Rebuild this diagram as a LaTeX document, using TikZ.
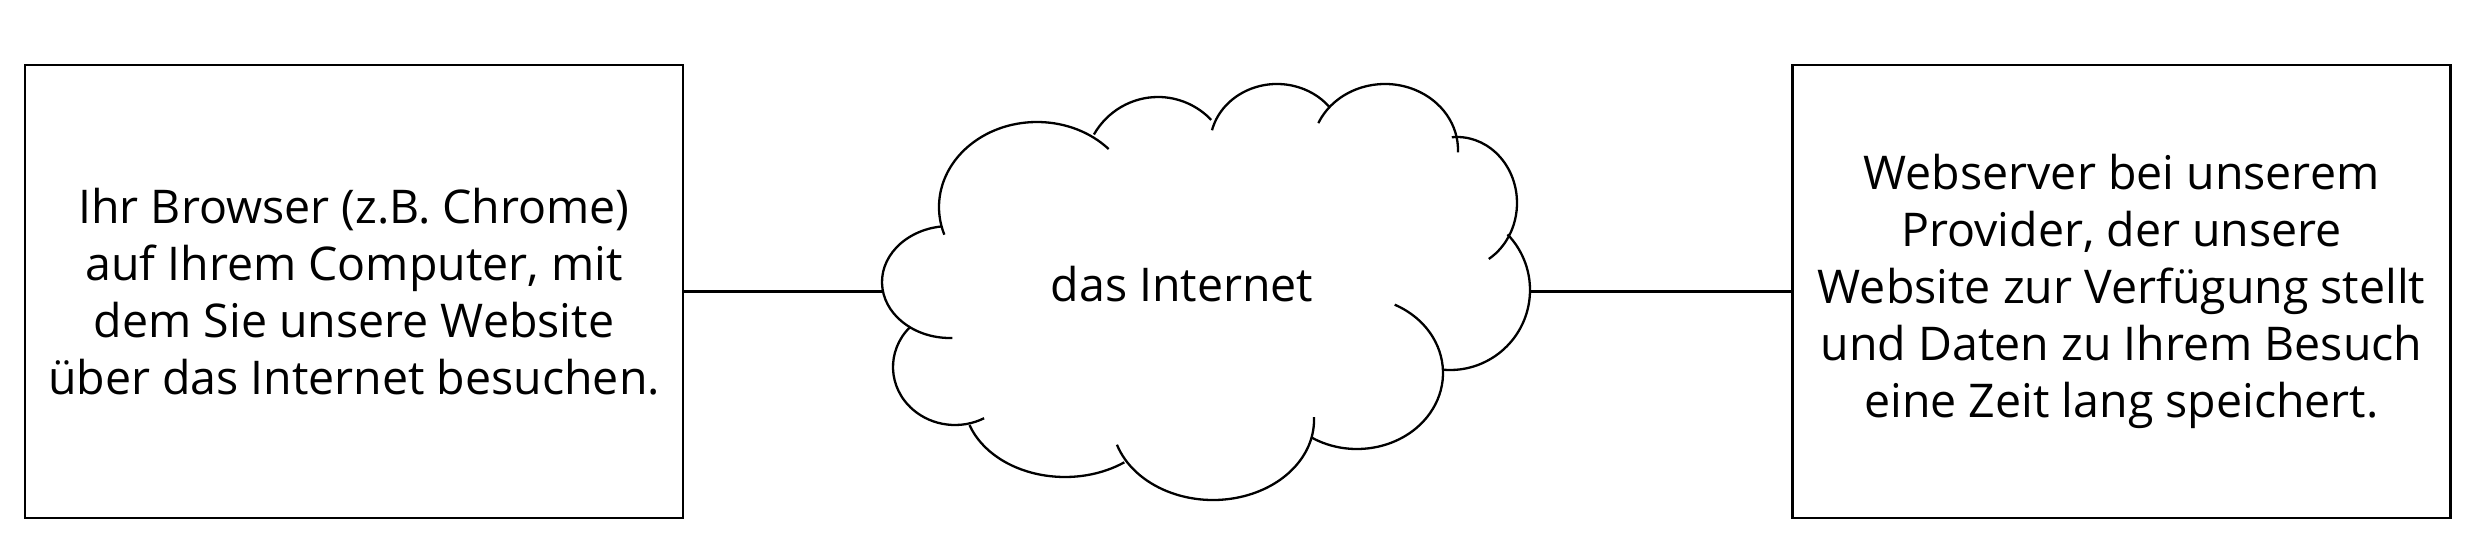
\documentclass[tikz,border=0pt]{standalone}
\usepackage{fontspec}
\setmainfont{Open Sans}
\begin{document}
\begin{tikzpicture}[x=1pt,y=-1pt,
  boxnode/.style={draw=black,line width=2.3pt,minimum width=658pt,minimum height=453pt,inner sep=0pt,align=center,
    font=\fontsize{46.5}{57}\selectfont},
  cloudline/.style={draw=black,line width=2.3pt},
  linkline/.style={draw=black,line width=2.3pt},
  cloudtext/.style={font=\fontsize{46.5}{57}\selectfont,inner sep=0pt}]
\useasboundingbox (0,0) rectangle (2478,559);
\newcommand{\cbump}[6]{\draw[cloudline] (#1,#2) ++(#5:#3 and #4) arc[start angle=#5,end angle=#6,x radius=#3,y radius=#4];}
% boxes
\node[boxnode] (browser) at (354,291.5) {Ihr Browser (z.B. Chrome)\\auf Ihrem Computer, mit\\dem Sie unsere Website\\über das Internet besuchen.};
\node[boxnode] (server) at (2121.5,291.5) {Webserver bei unserem\\Provider, der unsere\\Website zur Verfügung stellt\\und Daten zu Ihrem Besuch\\eine Zeit lang speichert.};
% cloud
\cbump{1037}{207}{98}{85}{317}{161}
\cbump{1158}{172}{74}{75}{210}{316}
\cbump{1277}{145}{67}{61}{194}{322}
\cbump{1385}{150}{73}{66}{204}{362}
\cbump{1457}{203}{60}{66}{265}{418}
\cbump{1450}{290}{80}{80}{95}{-44}
\cbump{1357}{373}{86}{76}{122}{-64}
\cbump{1213}{420}{101}{80}{162}{-2}
\cbump{1065}{400}{101}{77}{161}{54}
\cbump{955}{367}{62}{58}{223}{62}
\cbump{950}{282}{68}{56}{263}{88}
\node[cloudtext] (internet) at (1182,284) {das Internet};
\coordinate (cloudW) at (882,291.5);
\coordinate (cloudE) at (1530,291.5);
% connectors
\draw[linkline] (browser.east) -- (cloudW);
\draw[linkline] (cloudE) -- (server.west);
\end{tikzpicture}
\end{document}
